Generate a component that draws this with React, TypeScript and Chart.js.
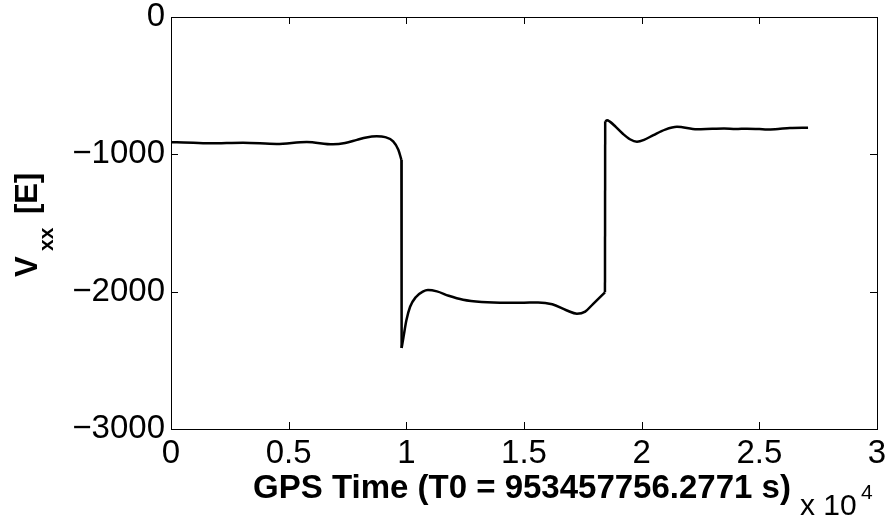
import { useEffect, useRef } from 'react';
import { Chart, registerables } from 'chart.js';

Chart.register(...registerables);

// GPS time offsets (s) and Vxx values (E)
const timeSec = [
  0, 240, 1660, 3060, 4490, 5770, 6880, 7400, 7900, 8300, 8740, 9100, 9440, 9660, 9790,
  9800, 9880, 10000, 10160, 10400, 10700, 10920, 11300, 11800, 12410, 13200, 14280, 15000,
  15600, 16200, 16800, 17250, 17600, 17930, 18200, 18440,
  18450, 18530, 18650, 18900, 19200, 19500, 19800, 20100, 20500, 21000, 21500, 22350, 23000,
  23500, 24000, 24480, 25000, 25330, 25800, 26300, 27070,
];
const vxx = [
  -912, -912, -920, -915, -924, -910, -927, -918, -895, -877, -869, -875, -905, -966, -1040,
  -2410, -2330, -2210, -2110, -2040, -2000, -1988, -1998, -2030, -2059, -2075, -2081, -2080,
  -2078, -2092, -2135, -2161, -2145, -2090, -2045, -2005,
  -760, -752, -762, -800, -850, -890, -908, -895, -860, -820, -800, -818, -813,
  -811, -816, -813, -816, -820, -815, -808, -806,
];
// indices where the signal jumps (a straight step joins point i-1 and i)
const jumpAt = [15, 36];

const xTicks = [0, 5000, 10000, 15000, 20000, 25000, 30000];
const yTicks = [-3000, -2000, -1000, 0];
const xTitle = 'GPS Time (T0 = 953457756.2771 s)';
const xScaleBase = 'x 10';
const xScaleExp = '4';
const yTitleMain = 'V';
const yTitleSub = 'xx';
const yTitleUnit = '[E]';

const FONT = '"Liberation Sans", Arial, Helvetica, sans-serif';

function buildDatasets() {
  const pts = timeSec.map((t, i) => ({ x: t, y: vxx[i] }));
  const bounds = [0, ...jumpAt, pts.length];
  const sets: any[] = [];
  const base = { borderColor: '#000', borderWidth: 2.5, pointRadius: 0, fill: false };
  for (let k = 0; k < bounds.length - 1; k++) {
    sets.push({ ...base, data: pts.slice(bounds[k], bounds[k + 1]), cubicInterpolationMode: 'monotone' });
  }
  jumpAt.forEach((j) => {
    sets.push({ ...base, data: [pts[j - 1], pts[j]], tension: 0 });
  });
  return sets;
}

const framePlugin = {
  id: 'matlabFrame',
  afterDraw(chart: any) {
    const { ctx, chartArea, scales } = chart;
    const { left, right, top, bottom } = chartArea;
    ctx.save();
    ctx.strokeStyle = '#000';
    ctx.lineWidth = 1;
    ctx.strokeRect(Math.round(left) + 0.5, Math.round(top) + 0.5, Math.round(right - left), Math.round(bottom - top));
    const tl = 7;
    ctx.beginPath();
    xTicks.forEach((v) => {
      const px = Math.round(scales.x.getPixelForValue(v)) + 0.5;
      ctx.moveTo(px, bottom);
      ctx.lineTo(px, bottom - tl);
      ctx.moveTo(px, top);
      ctx.lineTo(px, top + tl);
    });
    yTicks.forEach((v) => {
      const py = Math.round(scales.y.getPixelForValue(v)) + 0.5;
      ctx.moveTo(left, py);
      ctx.lineTo(left + tl, py);
      ctx.moveTo(right, py);
      ctx.lineTo(right - tl, py);
    });
    ctx.stroke();

    ctx.fillStyle = '#000';
    ctx.font = `bold 33px ${FONT}`;
    ctx.textAlign = 'center';
    ctx.textBaseline = 'alphabetic';
    ctx.fillText(xTitle, 522, 498);
    ctx.textAlign = 'left';
    ctx.font = `30px ${FONT}`;
    ctx.fillText(xScaleBase, 800, 515);
    ctx.font = `21px ${FONT}`;
    ctx.fillText(xScaleExp, 861, 499);

    ctx.translate(37, 277);
    ctx.rotate(-Math.PI / 2);
    ctx.font = `bold 31px ${FONT}`;
    ctx.fillText(yTitleMain, 0, 0);
    ctx.font = `bold 21px ${FONT}`;
    ctx.fillText(yTitleSub, 26, 16);
    ctx.font = `bold 31px ${FONT}`;
    ctx.fillText(yTitleUnit, 63, 0);
    ctx.restore();
  },
};

export default function App() {
  const ref = useRef<HTMLCanvasElement | null>(null);
  useEffect(() => {
    if (!ref.current) return;
    const chart = new Chart(ref.current, {
      type: 'line',
      data: { datasets: buildDatasets() },
      options: {
        animation: false,
        responsive: false,
        layout: { padding: { top: 17, right: 10, left: 0, bottom: 0 } },
        plugins: { legend: { display: false }, tooltip: { enabled: false } },
        scales: {
          x: {
            type: 'linear',
            min: 0,
            max: 30000,
            afterBuildTicks: (s: any) => {
              s.ticks = xTicks.map((v) => ({ value: v }));
            },
            afterFit: (s: any) => {
              s.height = 90;
              s.paddingLeft = 0;
              s.paddingRight = 0;
            },
            ticks: {
              callback: (v: any) => String(Number(v) / 10000),
              font: { family: FONT, size: 33 },
              color: '#000',
              padding: 5,
              maxRotation: 0,
              autoSkip: false,
            },
            grid: { display: false, drawTicks: false },
            border: { display: false },
          },
          y: {
            type: 'linear',
            min: -3000,
            max: 0,
            afterBuildTicks: (s: any) => {
              s.ticks = yTicks.map((v) => ({ value: v }));
            },
            afterFit: (s: any) => {
              s.width = 171;
              s.paddingTop = 0;
              s.paddingBottom = 0;
            },
            ticks: {
              callback: (v: any) => (Number(v) < 0 ? '\u2212' + Math.abs(Number(v)) : String(v)),
              font: { family: FONT, size: 33 },
              color: '#000',
              padding: 6,
              autoSkip: false,
            },
            grid: { display: false, drawTicks: false },
            border: { display: false },
          },
        },
      },
      plugins: [framePlugin],
    } as any);
    return () => chart.destroy();
  }, []);
  return (
    <div style={{ position: 'fixed', left: 0, top: 0, width: 887, height: 519, background: '#fff' }}>
      <canvas ref={ref} width={887} height={519} style={{ display: 'block' }} />
    </div>
  );
}
